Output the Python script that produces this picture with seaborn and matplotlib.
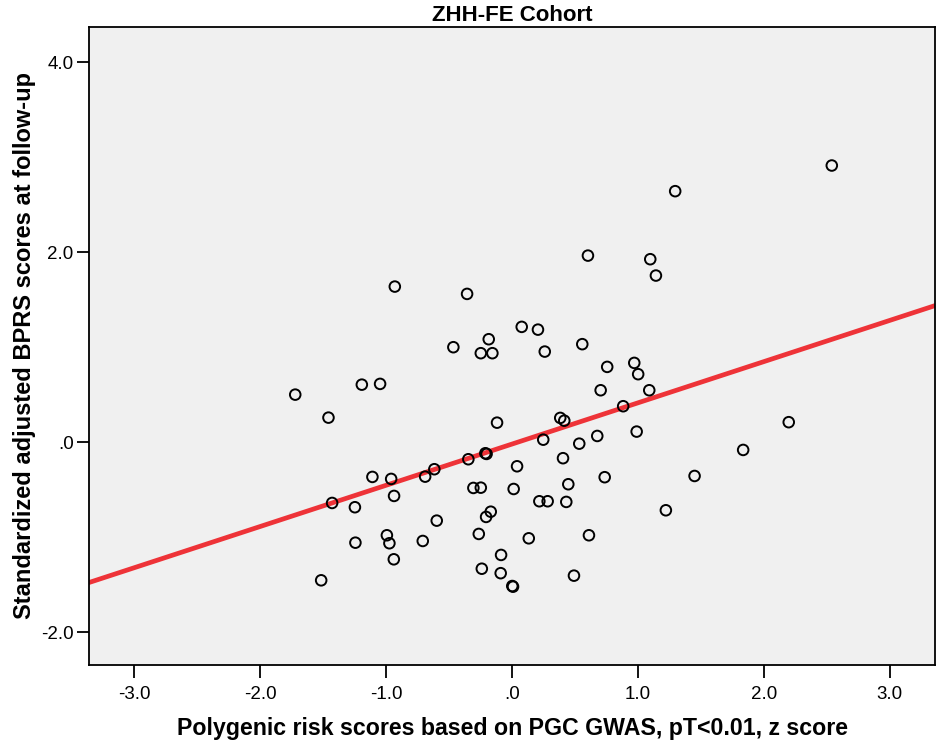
import numpy as np
import pandas as pd
import matplotlib
matplotlib.use('Agg')
import matplotlib.pyplot as plt
from matplotlib.ticker import FuncFormatter
import seaborn as sns

# values
prs = [-0.931, -0.357, -0.466, -0.185, -0.248, -0.156, 1.296, 0.603, 1.098, 1.143,
       0.077, 0.206, 0.260, 0.558, 0.756, 0.971, 1.002, 2.540, -1.722, -1.193,
       -1.048, -1.458, -0.119, -0.212, -0.202, -0.347, -0.617, -0.690, -1.109, -0.960,
       -1.429, -1.248, -0.937, -0.307, -0.248, -0.169, -0.206, -0.598, -0.264, -0.994,
       -0.974, -1.244, -0.709, -0.939, -0.087, -0.240, -0.090, -1.516, 0.704, 1.090,
       0.883, 0.383, 0.415, 0.248, 0.534, 0.677, 0.990, 1.836, 2.198, 0.405,
       0.040, 0.013, 0.447, 0.736, 1.450, 0.217, 0.283, 0.431, 1.222, 0.133,
       0.611, 0.492, 0.002, 0.008]
bprs = [1.638, 1.561, 1.000, 1.084, 0.937, 0.937, 2.642, 1.964, 1.926, 1.754,
        1.214, 1.185, 0.954, 1.032, 0.793, 0.835, 0.716, 2.912, 0.501, 0.606,
        0.614, 0.259, 0.206, -0.116, -0.123, -0.179, -0.284, -0.362, -0.365, -0.386,
        -0.639, -0.684, -0.565, -0.481, -0.478, -0.731, -0.786, -0.825, -0.965, -0.979,
        -1.063, -1.057, -1.039, -1.232, -1.186, -1.331, -1.378, -1.453, 0.547, 0.547,
        0.379, 0.256, 0.227, 0.027, -0.015, 0.066, 0.112, -0.081, 0.211, -0.168,
        -0.253, -0.492, -0.442, -0.368, -0.355, -0.621, -0.621, -0.628, -0.716, -1.011,
        -0.979, -1.404, -1.513, -1.520]

x_ticks = [-3.0, -2.0, -1.0, 0.0, 1.0, 2.0, 3.0]
y_ticks = [-2.0, 0.0, 2.0, 4.0]

df = pd.DataFrame({'prs': prs, 'bprs': bprs})

sns.set_style('white')
plt.rcParams['font.family'] = ['Liberation Sans', 'DejaVu Sans']
plt.rcParams['text.color'] = 'black'
plt.rcParams['axes.labelcolor'] = 'black'

fig = plt.figure(figsize=(9.42, 7.47), dpi=100)
ax = fig.add_axes([0.0945, 0.1098, 0.8981, 0.8541])
ax.set_facecolor('#f0f0f0')
ax.set_xlim(-3.36, 3.36)
ax.set_ylim(-2.344, 4.37)

# fit line across the whole frame
sns.regplot(x='prs', y='bprs', data=df, ax=ax, ci=None, scatter=False,
            truncate=False, line_kws={'color': '#ee3338', 'linewidth': 3.4})
sns.scatterplot(x='prs', y='bprs', data=df, ax=ax, s=58, facecolor='none',
                edgecolor='black', linewidth=1.4, zorder=3)

ax.set_xlim(-3.36, 3.36)
ax.set_ylim(-2.344, 4.37)


def spss_fmt(v, pos):
    s = '{:.1f}'.format(v)
    return s.replace('0.', '.', 1) if abs(v) < 1 else s


ax.set_xticks(x_ticks)
ax.set_yticks(y_ticks)
ax.xaxis.set_major_formatter(FuncFormatter(spss_fmt))
ax.yaxis.set_major_formatter(FuncFormatter(spss_fmt))
ax.tick_params(axis='both', direction='out', length=9, width=1.3, color='black',
               labelsize=13.5, labelcolor='black', bottom=True, left=True)
ax.tick_params(axis='x', pad=6)
ax.tick_params(axis='y', pad=2)
for sp in ax.spines.values():
    sp.set_color('black')
    sp.set_linewidth(1.3)

ax.set_title('ZHH-FE Cohort', fontsize=16, fontweight='bold', pad=4)
ax.set_xlabel('Polygenic risk scores based on PGC GWAS, pT<0.01, z score',
              fontsize=16.7, fontweight='bold', labelpad=10)
ax.set_ylabel('Standardized adjusted BPRS scores at follow-up',
              fontsize=17, fontweight='bold', labelpad=4)

fig.savefig('out.png', dpi=100, facecolor='white')
